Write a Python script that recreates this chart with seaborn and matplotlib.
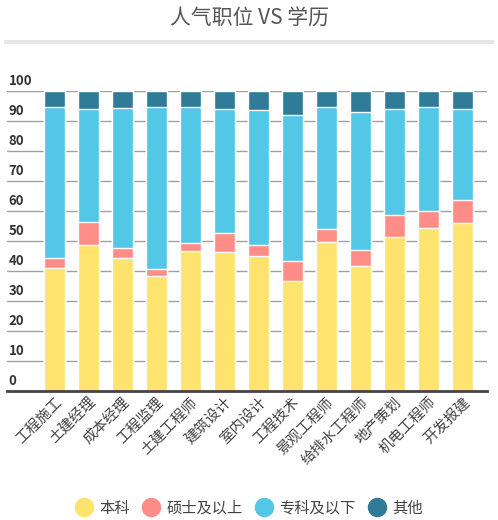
import matplotlib
matplotlib.use('Agg')
import matplotlib.pyplot as plt
from matplotlib.lines import Line2D
from matplotlib.patches import Rectangle
import numpy as np
import pandas as pd
import seaborn as sns

jobs = ['工程施工', '土建经理', '成本经理', '工程监理', '土建工程师', '建筑设计', '室内设计',
        '工程技术', '景观工程师', '给排水工程师', '地产策划', '机电工程师', '开发报建']
bachelor = [41.1, 48.8, 44.4, 38.4, 46.7, 46.3, 45.1, 36.8, 49.8, 41.8, 51.4, 54.4, 56.1]
master = [3.3, 7.5, 3.4, 2.4, 2.5, 6.4, 3.6, 6.5, 4.3, 5.3, 7.4, 5.6, 7.7]
college = [50.4, 37.7, 46.5, 54.0, 45.6, 41.3, 45.0, 48.8, 40.7, 46.0, 35.3, 34.8, 30.3]
other = [5.2, 6.0, 5.7, 5.2, 5.2, 6.0, 6.3, 7.9, 5.2, 6.9, 5.9, 5.2, 5.9]
series_names = ['本科', '硕士及以上', '专科及以下', '其他']
y_ticks = [0, 10, 20, 30, 40, 50, 60, 70, 80, 90, 100]

colors = ['#fee36e', '#fd8d86', '#53c7e6', '#2f7b98']

sns.set_theme(style='white')
plt.rcParams['font.family'] = ['Noto Sans CJK SC', 'DejaVu Sans']

df = pd.DataFrame({'job': jobs, '本科': bachelor, '硕士及以上': master,
                   '专科及以下': college, '其他': other})
cum = df[series_names].cumsum(axis=1)

fig = plt.figure(figsize=(4.98, 5.2), dpi=100)
ax = fig.add_axes([7 / 498, 1 - 391 / 520, 480 / 498, 300 / 520])

# draw stacked bars from the top layer down
for name, color in reversed(list(zip(series_names, colors))):
    sns.barplot(x=df['job'], y=cum[name], color=color, width=0.62,
                saturation=1, ax=ax, zorder=3)

ax.set_ylim(0, 100)
ax.set_xlim(-1.4, 12.72)
ax.set_xlabel('')
ax.set_ylabel('')
for s in ['top', 'right', 'left']:
    ax.spines[s].set_visible(False)
ax.spines['bottom'].set_color('#444444')
ax.spines['bottom'].set_linewidth(2)
ax.spines['bottom'].set_zorder(5)

ax.set_yticks(y_ticks)
ax.yaxis.grid(True, color='#a0a0a0', linewidth=1, zorder=0)
ax.tick_params(axis='y', length=0, labelleft=False)
for v in y_ticks:
    ax.text(0.003, v + 0.9, str(v), transform=ax.get_yaxis_transform(),
            ha='left', va='bottom', fontsize=9.5, fontweight='bold', color='#333333')

ax.tick_params(axis='x', length=0, pad=3)
ax.set_xticks(range(len(jobs)))
ax.set_xticklabels(jobs, rotation=45, ha='right', rotation_mode='anchor',
                   fontsize=10.5, color='#444444')

fig.text(0.5, 1 - 18 / 520, '人气职位 VS 学历', ha='center', va='center',
         fontsize=15, color='#555555')
fig.add_artist(Rectangle((4 / 498, 1 - 44 / 520), 490 / 498, 4 / 520,
                         transform=fig.transFigure, color='#e6e6e6', lw=0))

handles = [Line2D([], [], marker='o', linestyle='', markersize=13,
                  markerfacecolor=c, markeredgecolor=c) for c in colors]
fig.legend(handles, series_names, loc='center', bbox_to_anchor=(0.5, 1 - 508 / 520),
           ncol=4, frameon=False, fontsize=11, handletextpad=0.4,
           columnspacing=0.8, handlelength=1.2, labelcolor='#444444')

fig.savefig('out.png', dpi=100)
